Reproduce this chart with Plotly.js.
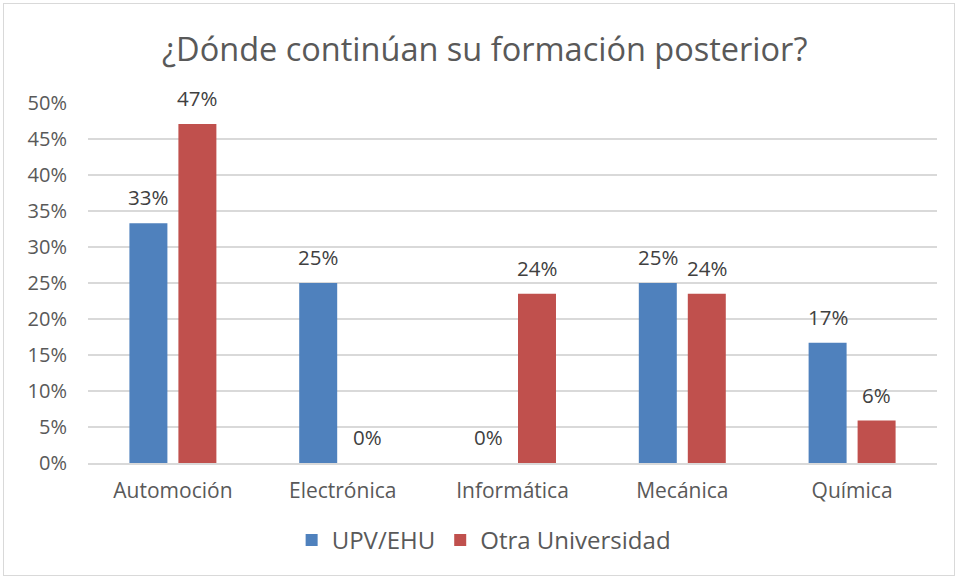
<!DOCTYPE html>
<html><head><meta charset="utf-8">
<script src="https://cdn.plot.ly/plotly-3.0.1.min.js"></script>
<style>body{margin:0;background:#fff}#wrap{position:relative;width:958px;height:578px}#chart{width:958px;height:578px}#frame{position:absolute;left:3px;top:3px;width:950px;height:571px;border:1px solid #d9d9d9;pointer-events:none}</style>
</head><body>
<div id="wrap"><div id="chart"></div><div id="frame"></div></div>
<script>
const categories = ["Automoción","Electrónica","Informática","Mecánica","Química"];
const upvValues = [0.333, 0.25, 0, 0.25, 0.167];
const otraValues = [0.471, 0, 0.235, 0.235, 0.059];
const upvLabels = ["33%","25%","0%","25%","17%"];
const otraLabels = ["47%","0%","24%","24%","6%"];
const yTicks = [0,0.05,0.1,0.15,0.2,0.25,0.3,0.35,0.4,0.45,0.5];
const yTickText = ["0%","5%","10%","15%","20%","25%","30%","35%","40%","45%","50%"];
const font = "Open Sans, Noto Sans, sans-serif";
const traces = [
 {type:"bar", name:"UPV/EHU", x:categories, y:upvValues, marker:{color:"#4f81bd"}, hoverinfo:"none"},
 {type:"bar", name:"Otra Universidad", x:categories, y:otraValues, marker:{color:"#c0504d"}, hoverinfo:"none"}
];
const annotations = [];
const series = [[upvValues, upvLabels, -24.5], [otraValues, otraLabels, 24.5]];
series.forEach(([vals, labs, dx]) => {
  categories.forEach((c, i) => {
    annotations.push({x:c, y:vals[i], xref:"x", yref:"y", text:labs[i], showarrow:false,
      yanchor:"bottom", xanchor:"center", xshift:dx, yshift:10,
      font:{size:20.5, color:"#404040", family:font}});
  });
});
const layout = {
 width:958, height:578,
 margin:{l:88, r:21, t:103, b:115},
 paper_bgcolor:"#fff", plot_bgcolor:"#fff",
 font:{family:font, color:"#595959"},
 title:{text:"¿Dónde continúan su formación posterior?", font:{size:32.5,color:"#595959",family:font}, x:0.506, xanchor:"center", y:0.915, yanchor:"middle"},
 barmode:"group", bargap:0.423, bargroupgap:0.2245,
 xaxis:{tickfont:{size:21,color:"#595959"}, showline:true, linecolor:"#d9d9d9", linewidth:1.5, ticks:"", ticklabelstandoff:8, automargin:false},
 yaxis:{range:[0,0.5], tickvals:yTicks, ticktext:yTickText, tickfont:{size:20,color:"#595959"}, gridcolor:"#d9d9d9", gridwidth:1.5, zeroline:false, ticks:"", ticklabelstandoff:20, automargin:false},
 showlegend:true,
 annotations: annotations,
 legend:{orientation:"h", x:0.466, xanchor:"center", y:-0.215, yanchor:"middle", font:{size:24,color:"#595959"}, traceorder:"normal", itemwidth:30}
};
Plotly.newPlot("chart", traces, layout, {displayModeBar:false, staticPlot:true});
</script>
</body></html>
